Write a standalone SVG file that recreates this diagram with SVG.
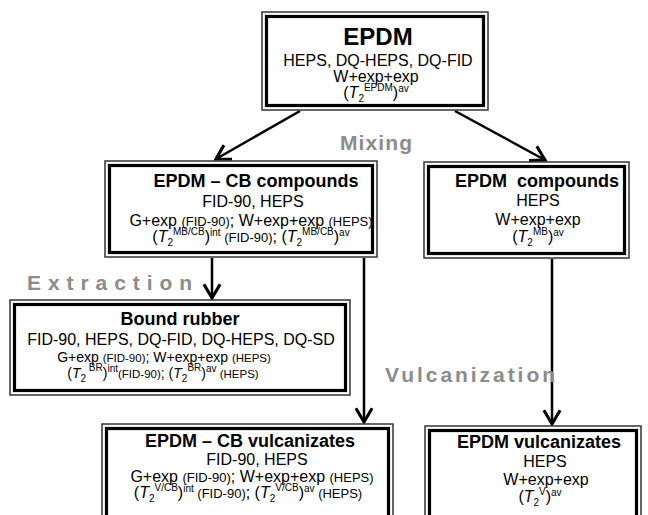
<svg xmlns="http://www.w3.org/2000/svg" width="648" height="515" viewBox="0 0 648 515">
<defs>
<style>
text{font-family:"Liberation Sans",Arial,sans-serif;fill:#000;text-anchor:middle}
.t{font-size:16px}
.t2{font-size:14px}
.h{font-size:18px;font-weight:bold;white-space:pre}
.big{font-size:24px;font-weight:bold}
.sm{font-size:13px}
.sm2{font-size:11.5px}
.s{font-size:10px}
.i{font-style:italic}
.lab{font-size:21px;font-weight:bold;fill:#8c8c8c;text-anchor:start}
.outer{fill:#fff;stroke:#333;stroke-width:1.5}
.inner{fill:none;stroke:#000;stroke-width:3.2}
.conn line{stroke:#000;stroke-width:2.5;marker-end:url(#arr)}
</style>
<marker id="arr" markerUnits="userSpaceOnUse" markerWidth="20" markerHeight="20" viewBox="-12 -8 14 16" refX="0" refY="0" orient="auto">
<path d="M-11,-6.5 L0,0 L-11,6.5" fill="none" stroke="#000" stroke-width="2.5"/>
</marker>
</defs>
<rect width="648" height="515" fill="#fff"/>

<g id="connectors" class="conn">
<line x1="300" y1="111" x2="216" y2="159"/>
<line x1="455" y1="111" x2="545" y2="160"/>
<line x1="212" y1="258" x2="212" y2="298"/>
<line x1="364" y1="258" x2="364" y2="422"/>
<line x1="552" y1="259" x2="552" y2="424"/>
</g>

<g id="labels">
<text class="lab" x="340" y="150" textLength="72" lengthAdjust="spacing">Mixing</text>
<text class="lab" x="27" y="290" textLength="165" lengthAdjust="spacing">Extraction</text>
<text class="lab" x="385" y="382" textLength="170" lengthAdjust="spacing">Vulcanization</text>
</g>

<g id="epdm">
<rect class="outer" x="262" y="12" width="226" height="98"/>
<rect class="inner" x="266.5" y="16.5" width="217" height="89"/>
<text class="big" x="378" y="45">EPDM</text>
<text class="t" x="378" y="66">HEPS, DQ-HEPS, DQ-FID</text>
<text class="t" x="376" y="82">W+exp+exp</text>
<text class="t" x="376" y="98">(<tspan class="i">T</tspan><tspan class="s" dy="4">2</tspan><tspan class="s" dy="-11">EPDM</tspan><tspan dy="7">)</tspan><tspan class="s" dy="-6">av</tspan></text>
</g>

<g id="cb-compounds">
<rect class="outer" x="105" y="161" width="272" height="96"/>
<rect class="inner" x="109.5" y="165.5" width="263" height="87"/>
<text class="h" x="256" y="187">EPDM – CB compounds</text>
<text class="t" x="253" y="207">FID-90, HEPS</text>
<text class="t" x="251" y="226">G+exp <tspan class="sm">(FID-90)</tspan>; W+exp+exp <tspan class="sm">(HEPS)</tspan></text>
<text class="t" x="251" y="242">(<tspan class="i">T</tspan><tspan class="s" dy="4">2</tspan><tspan class="s" dy="-11">MB/CB</tspan><tspan dy="7">)</tspan><tspan class="s" dy="-6">int</tspan><tspan class="sm" dy="6"> (FID-90)</tspan>; (<tspan class="i">T</tspan><tspan class="s" dy="4">2</tspan><tspan class="s" dy="-11">MB/CB</tspan><tspan dy="7">)</tspan><tspan class="s" dy="-6">av</tspan></text>
</g>

<g id="epdm-compounds">
<rect class="outer" x="424" y="162" width="205" height="96"/>
<rect class="inner" x="428.5" y="166.5" width="196" height="87"/>
<text class="h" x="537" y="187">EPDM  compounds</text>
<text class="t" x="538" y="206">HEPS</text>
<text class="t" x="538" y="225">W+exp+exp</text>
<text class="t" x="538" y="242">(<tspan class="i">T</tspan><tspan class="s" dy="4">2</tspan><tspan class="s" dy="-11">MB</tspan><tspan dy="7">)</tspan><tspan class="s" dy="-6">av</tspan></text>
</g>

<g id="bound-rubber">
<rect class="outer" x="10" y="300" width="340" height="95"/>
<rect class="inner" x="14.5" y="304.5" width="331" height="86"/>
<text class="h" x="180" y="325">Bound rubber</text>
<text class="t" x="181" y="345">FID-90, HEPS, DQ-FID, DQ-HEPS, DQ-SD</text>
<text class="t2" x="164" y="362">G+exp <tspan class="sm2">(FID-90)</tspan>; W+exp+exp <tspan class="sm2">(HEPS)</tspan></text>
<text class="t2" x="163" y="378">(<tspan class="i">T</tspan><tspan class="s" dy="4">2</tspan><tspan class="s" dy="-11"> BR</tspan><tspan dy="7">)</tspan><tspan class="s" dy="-6">int</tspan><tspan class="sm2" dy="6">(FID-90)</tspan>; (<tspan class="i">T</tspan><tspan class="s" dy="4">2</tspan><tspan class="s" dy="-11">BR</tspan><tspan dy="7">)</tspan><tspan class="s" dy="-6">av</tspan><tspan class="sm2" dy="6"> (HEPS)</tspan></text>
</g>

<g id="cb-vulcanizates">
<rect class="outer" x="102" y="424" width="291" height="110"/>
<rect class="inner" x="106.5" y="428.5" width="282" height="110"/>
<text class="h" x="250" y="447">EPDM – CB vulcanizates</text>
<text class="t" x="257" y="465">FID-90, HEPS</text>
<text class="t" x="252" y="482">G+exp <tspan class="sm">(FID-90)</tspan>; W+exp+exp <tspan class="sm">(HEPS)</tspan></text>
<text class="t" x="248" y="498">(<tspan class="i">T</tspan><tspan class="s" dy="4">2</tspan><tspan class="s" dy="-11">V/CB</tspan><tspan dy="7">)</tspan><tspan class="s" dy="-6">int</tspan><tspan class="sm" dy="6"> (FID-90)</tspan>; (<tspan class="i">T</tspan><tspan class="s" dy="4">2</tspan><tspan class="s" dy="-11">V/CB</tspan><tspan dy="7">)</tspan><tspan class="s" dy="-6">av</tspan><tspan class="sm" dy="6"> (HEPS)</tspan></text>
</g>

<g id="epdm-vulcanizates">
<rect class="outer" x="425" y="426" width="216" height="110"/>
<rect class="inner" x="429.5" y="430.5" width="207" height="110"/>
<text class="h" x="539" y="448">EPDM vulcanizates</text>
<text class="t" x="545" y="467">HEPS</text>
<text class="t" x="546" y="485">W+exp+exp</text>
<text class="t" x="540" y="502">(<tspan class="i">T</tspan><tspan class="s" dy="4">2</tspan><tspan class="s" dy="-11">V</tspan><tspan dy="7">)</tspan><tspan class="s" dy="-6">av</tspan></text>
</g>
</svg>
